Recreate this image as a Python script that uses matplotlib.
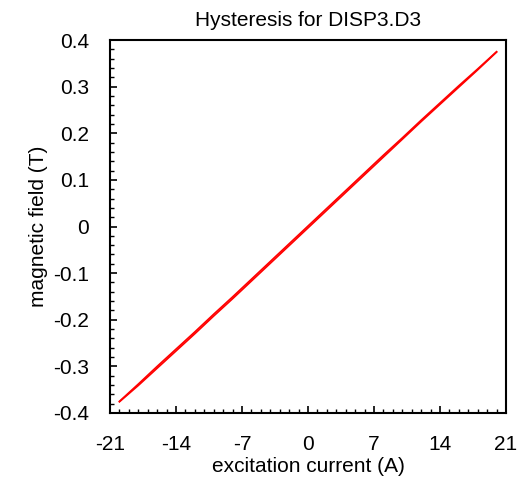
import matplotlib
matplotlib.use("Agg")
import matplotlib.pyplot as plt
from matplotlib.ticker import MultipleLocator, FixedLocator, FuncFormatter

plt.rcParams['font.family'] = ['Liberation Sans', 'DejaVu Sans']

# Data
current = [-20, -18, -16, -14, -12, -10, -8, -6, -4, -2, 0, 2, 4, 6, 8, 10, 12, 14, 16, 18, 20]
field_up = [-0.376, -0.341, -0.304, -0.267, -0.230, -0.192, -0.155, -0.117, -0.079, -0.041,
            -0.003, 0.035, 0.073, 0.111, 0.149, 0.187, 0.225, 0.262, 0.299, 0.336, 0.374]
field_down = [-0.375, -0.338, -0.300, -0.263, -0.226, -0.188, -0.151, -0.113, -0.075, -0.037,
              0.001, 0.039, 0.077, 0.115, 0.153, 0.190, 0.228, 0.265, 0.302, 0.338, 0.375]

x_ticks = [-21, -14, -7, 0, 7, 14, 21]
y_ticks = [-0.4, -0.3, -0.2, -0.1, 0, 0.1, 0.2, 0.3, 0.4]

FS = 15

fig = plt.figure(figsize=(5.27, 4.78), dpi=100)
ax = fig.add_axes([110/527, (478-413)/478, (506-110)/527, (413-40)/478])

ax.plot(current, field_up, color='#ff0000', lw=1.2)
ax.plot(current[::-1], field_down[::-1], color='#ff0000', lw=1.2)

ax.set_xlim(-21, 21)
ax.set_ylim(-0.4, 0.4)
ax.xaxis.set_major_locator(FixedLocator(x_ticks))
ax.yaxis.set_major_locator(FixedLocator(y_ticks))
ax.xaxis.set_minor_locator(MultipleLocator(1))
ax.yaxis.set_minor_locator(MultipleLocator(0.02))

ax.xaxis.set_major_formatter(FuncFormatter(lambda v, p: f"{int(round(v))}"))
def yfmt(v, p):
    if abs(v) < 1e-9:
        return "0"
    return f"{v:.1f}"
ax.yaxis.set_major_formatter(FuncFormatter(yfmt))

ax.tick_params(axis='both', which='major', direction='in', length=5, width=1.2,
               labelsize=FS, top=False, right=False)
ax.tick_params(axis='both', which='minor', direction='in', length=3, width=1.0,
               top=False, right=False)
ax.tick_params(axis='y', which='major', pad=15)
ax.tick_params(axis='x', which='major', pad=16)

for s in ax.spines.values():
    s.set_linewidth(1.5)
    s.set_color('black')

ax.set_title("Hysteresis for DISP3.D3", fontsize=FS, pad=10)
ax.set_xlabel("excitation current (A)", fontsize=FS, labelpad=2)
ax.set_ylabel("magnetic field (T)", fontsize=FS, labelpad=4)

fig.savefig("out.png", dpi=100)
